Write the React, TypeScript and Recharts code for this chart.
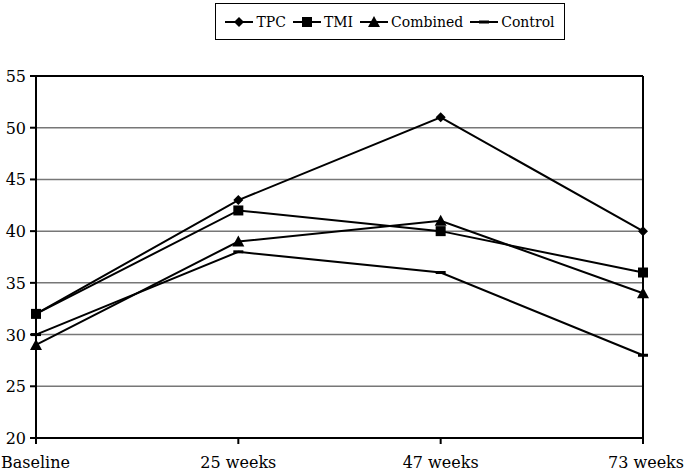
import { LineChart, Line, XAxis, YAxis, CartesianGrid, ReferenceLine } from 'recharts';

const weeks = ['Baseline', '25 weeks', '47 weeks', '73 weeks'];
const tpc = [32, 43, 51, 40];
const tmi = [32, 42, 40, 36];
const combined = [29, 39, 41, 34];
const control = [30, 38, 36, 28];
const yTicks = [20, 25, 30, 35, 40, 45, 50, 55];

const chartData = weeks.map((week, i) => ({
  week,
  tpc: tpc[i],
  tmi: tmi[i],
  combined: combined[i],
  control: control[i],
}));

const FONT = "'DejaVu Serif', serif";

const Diamond = ({ cx, cy }: any) => (
  <polygon points={`${cx},${cy - 5} ${cx + 5},${cy} ${cx},${cy + 5} ${cx - 5},${cy}`} fill="#000" />
);
const Square = ({ cx, cy }: any) => <rect x={cx - 5} y={cy - 5} width={10} height={10} fill="#000" />;
const Triangle = ({ cx, cy }: any) => (
  <polygon points={`${cx},${cy - 6} ${cx + 6},${cy + 5} ${cx - 6},${cy + 5}`} fill="#000" />
);
const Dash = ({ cx, cy }: any) => <rect x={cx - 5} y={cy - 1.5} width={10} height={3} fill="#000" />;

const series = [
  { key: 'tpc', name: 'TPC', Shape: Diamond },
  { key: 'tmi', name: 'TMI', Shape: Square },
  { key: 'combined', name: 'Combined', Shape: Triangle },
  { key: 'control', name: 'Control', Shape: Dash },
];

// first and last labels hug the page edges, like the original
const XTick = ({ x, y, payload, index }: any) => {
  let anchor: 'start' | 'middle' | 'end' = 'middle';
  let tx = x;
  if (index === 0) {
    anchor = 'start';
    tx = 1;
  } else if (index === weeks.length - 1) {
    anchor = 'end';
    tx = 684;
  }
  return (
    <text x={tx} y={y + 22} textAnchor={anchor} fill="#000" fontFamily={FONT} fontSize={16}>
      {payload.value}
    </text>
  );
};

const YTick = ({ x, y, payload }: any) => (
  <text x={x - 2} y={y + 6} textAnchor="end" fill="#000" fontFamily={FONT} fontSize={16}>
    {payload.value}
  </text>
);

function ChartLegend() {
  return (
    <div
      style={{
        position: 'absolute',
        left: 215,
        top: 3,
        width: 350,
        height: 37,
        border: '1.5px solid #000',
        display: 'flex',
        alignItems: 'center',
        justifyContent: 'center',
        fontFamily: FONT,
        fontSize: 14,
        boxSizing: 'border-box',
      }}
    >
      {series.map(({ key, name, Shape }, i) => (
        <div
          key={key}
          style={{ display: 'flex', alignItems: 'center', marginRight: i < series.length - 1 ? 7 : 0 }}
        >
          <svg width={28} height={14}>
            <line x1={0} y1={7} x2={28} y2={7} stroke="#000" strokeWidth={2} />
            <Shape cx={14} cy={7} />
          </svg>
          <span style={{ marginLeft: 3 }}>{name}</span>
        </div>
      ))}
    </div>
  );
}

export default function App() {
  return (
    <div style={{ position: 'absolute', left: 0, top: 0, width: 685, height: 473, background: '#fff' }}>
      <ChartLegend />
      <LineChart width={685} height={473} data={chartData} margin={{ top: 76, right: 42, bottom: 0, left: 0 }}>
        <CartesianGrid vertical={false} stroke="#777" strokeWidth={1.5} />
        <XAxis
          dataKey="week"
          height={35}
          stroke="#000"
          strokeWidth={2}
          tickSize={6}
          tick={<XTick />}
          tickLine={{ stroke: '#000' }}
        />
        <YAxis
          domain={[20, 55]}
          ticks={yTicks}
          width={36}
          stroke="#000"
          strokeWidth={2}
          tickSize={6}
          tick={<YTick />}
          tickLine={{ stroke: '#000' }}
        />
        <ReferenceLine y={55} stroke="#000" strokeWidth={2} />
        <ReferenceLine x="73 weeks" stroke="#000" strokeWidth={2} />
        {series.map(({ key, name, Shape }) => (
          <Line
            key={key}
            dataKey={key}
            name={name}
            stroke="#000"
            strokeWidth={2}
            dot={(p: any) => <Shape key={`${key}-${p.index}`} cx={p.cx} cy={p.cy} />}
            activeDot={false}
            isAnimationActive={false}
          />
        ))}
      </LineChart>
    </div>
  );
}
